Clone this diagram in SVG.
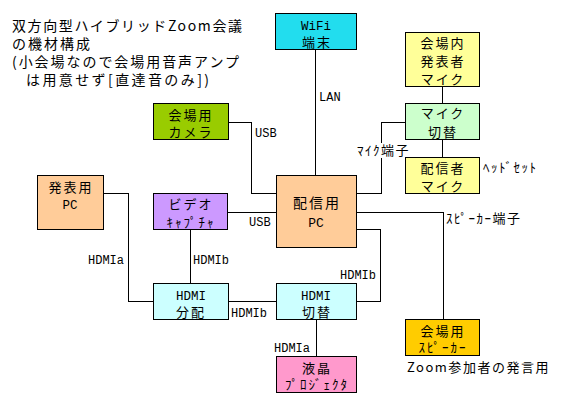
<svg xmlns="http://www.w3.org/2000/svg" width="563" height="405" viewBox="0 0 563 405">
<style>
.b{stroke:#000;stroke-width:1;shape-rendering:crispEdges}
.c{fill:none;stroke:#000;stroke-width:1;shape-rendering:crispEdges}
.t{font-family:"Noto Sans CJK JP","Noto Sans",sans-serif;font-size:13px;letter-spacing:2px;fill:#000;text-anchor:middle}
.m{font-family:"Liberation Mono","DejaVu Sans Mono",monospace;font-size:12.5px;fill:#000;text-anchor:middle}
.l{font-family:"Liberation Mono","DejaVu Sans Mono",monospace;font-size:12px;fill:#000}
.k{font-family:"Noto Sans CJK JP","Noto Sans",sans-serif;font-size:13px;letter-spacing:1.5px;fill:#000}
.h{font-family:"Noto Sans CJK JP","Noto Sans",sans-serif;font-size:14px;fill:#000}
</style>
<rect width="563" height="405" fill="#fff"/>
<g id="title">
<text class="h" x="12" y="31" textLength="230" lengthAdjust="spacing">双方向型ハイブリッドZoom会議</text>
<text class="h" x="12" y="49" textLength="78" lengthAdjust="spacing">の機材構成</text>
<text class="h" x="12" y="67" textLength="227" lengthAdjust="spacing">(小会場なので会場用音声アンプ</text>
<text class="h" x="26" y="85" textLength="183" lengthAdjust="spacing">は用意せず[直達音のみ])</text>
</g>
<g id="connectors">
<path class="c" d="M315.5,49V175"/>
<path class="c" d="M442.5,86V103"/>
<path class="c" d="M442.5,139V157"/>
<path class="c" d="M405,122.5H381.5V193.5H356"/>
<path class="c" d="M228,122.5H251.5V193.5H276"/>
<path class="c" d="M227,212.5H276"/>
<path class="c" d="M356,212.5H443.5V319"/>
<path class="c" d="M356,229.5H380.5V301.5H356"/>
<path class="c" d="M103,193.5H128.5V301.5H153"/>
<path class="c" d="M190.5,229V283"/>
<path class="c" d="M228,301.5H276"/>
<path class="c" d="M316.5,319V356"/>
<rect x="357" y="143" width="55" height="15" fill="#fff"/>
<text class="l" x="319" y="101">LAN</text>
<text class="l" x="255" y="137">USB</text>
<text class="l" x="249" y="226">USB</text>
<text class="k" x="357" y="155">ﾏｲｸ端子</text>
<text class="k" x="483" y="172">ﾍｯﾄﾞｾｯﾄ</text>
<text class="k" x="446" y="223">ｽﾋﾟｰｶｰ端子</text>
<text class="l" x="88" y="264">HDMIa</text>
<text class="l" x="193" y="264">HDMIb</text>
<text class="l" x="340" y="279">HDMIb</text>
<text class="l" x="231" y="317">HDMIb</text>
<text class="l" x="274" y="352">HDMIa</text>
</g>
<g id="wifi"><rect class="b" x="275.5" y="13.5" width="81" height="36" fill="#22DDEE"/><text class="m" x="316" y="30">WiFi</text><text class="t" x="317" y="47">端末</text></g>
<g id="hall-mic"><rect class="b" x="405.5" y="32.5" width="74" height="54" fill="#FFFF99"/><text class="t" x="443" y="48">会場内</text><text class="t" x="443" y="66">発表者</text><text class="t" x="443" y="84">マイク</text></g>
<g id="mic-switch"><rect class="b" x="405.5" y="103.5" width="74" height="36" fill="#CCFFCC"/><text class="t" x="443" y="118">マイク</text><text class="t" x="443" y="137">切替</text></g>
<g id="host-mic"><rect class="b" x="405.5" y="157.5" width="74" height="36" fill="#FFFF99"/><text class="t" x="443" y="173">配信者</text><text class="t" x="443" y="191">マイク</text></g>
<g id="camera"><rect class="b" x="153.5" y="103.5" width="75" height="36" fill="#99CC00"/><text class="t" x="191" y="120">会場用</text><text class="t" x="191" y="137">カメラ</text></g>
<g id="host-pc"><rect class="b" x="276.5" y="175.5" width="80" height="72" fill="#FFCC99"/><text class="t" x="317" y="208" style="font-size:14px">配信用</text><text class="m" x="316" y="227" style="font-size:13px">PC</text></g>
<g id="presenter-pc"><rect class="b" x="37.5" y="175.5" width="66" height="54" fill="#FFCC99"/><text class="t" x="71" y="192">発表用</text><text class="m" x="70" y="209">PC</text></g>
<g id="capture"><rect class="b" x="153.5" y="193.5" width="74" height="36" fill="#CC99FF"/><text class="t" x="191" y="209">ビデオ</text><text class="t" x="191" y="227">ｷｬﾌﾟﾁｬ</text></g>
<g id="hdmi-split"><rect class="b" x="153.5" y="283.5" width="75" height="36" fill="#CCFFFF"/><text class="m" x="191" y="300">HDMI</text><text class="t" x="191" y="317">分配</text></g>
<g id="hdmi-switch"><rect class="b" x="276.5" y="283.5" width="80" height="36" fill="#CCFFFF"/><text class="m" x="316" y="300">HDMI</text><text class="t" x="317" y="317">切替</text></g>
<g id="projector"><rect class="b" x="276.5" y="356.5" width="80" height="36" fill="#FF99CC"/><text class="t" x="317" y="373">液晶</text><text class="t" x="317" y="389">ﾌﾟﾛｼﾞｪｸﾀ</text></g>
<g id="speaker"><rect class="b" x="405.5" y="319.5" width="74" height="36" fill="#FFCC00"/><text class="t" x="443" y="336">会場用</text><text class="t" x="443" y="352">ｽﾋﾟｰｶｰ</text>
<text class="k" x="407" y="372" textLength="143" lengthAdjust="spacing">Zoom参加者の発言用</text></g>
</svg>
